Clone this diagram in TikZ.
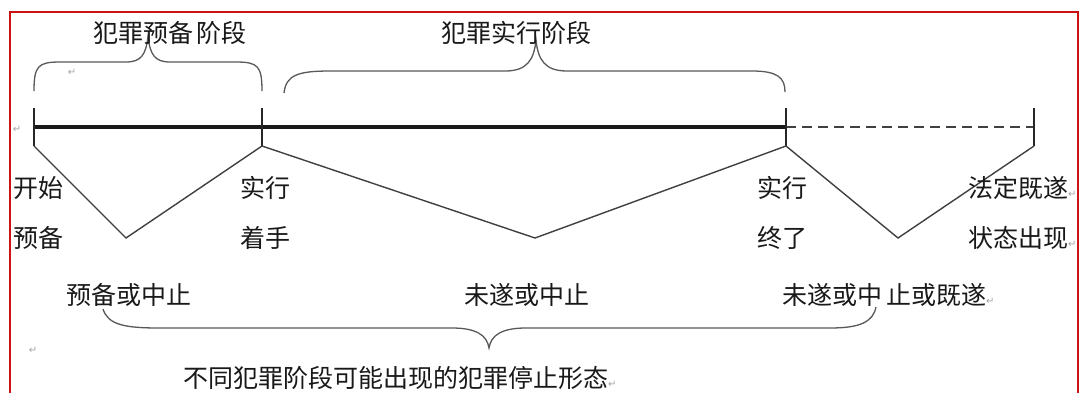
\documentclass[tikz,border=0pt]{standalone}
\usepackage{fontspec}
\newfontfamily\cjk{Noto Sans CJK SC}
\newfontfamily\symf{DejaVu Sans}
\newcommand{\parmark}{{\symf\fontsize{10}{10}\selectfont\color{black!35}↵}}
\begin{document}
\begin{tikzpicture}[x=1pt,y=-1pt,
  lbl/.style={font=\cjk\fontsize{25}{25}\selectfont, text=black!90, inner sep=0pt, anchor=west},
  ttl/.style={font=\cjk\fontsize{25}{25}\selectfont, text=black!90, inner sep=0pt},
  retmark/.style={font=\symf\fontsize{10}{10}\selectfont, text=black!35, inner sep=0pt},
  bracepath/.style={draw=black!65, line width=1.3pt},
  mainline/.style={draw=black!90, line width=3.5pt},
  dashline/.style={draw=black!75, line width=2.5pt, dash pattern=on 10pt off 6pt},
  tickline/.style={draw=black!85, line width=2pt},
  zig/.style={draw=black!75, line width=1.4pt, line join=miter}]
\useasboundingbox (0,0) rectangle (1081,392);
\fill[white] (0,0) rectangle (1081,392);
\draw[draw={rgb,255:red,200;green,20;blue,20}, line width=2pt] (10,400) -- (10,12) -- (1078,12) -- (1078,400);

% timeline points
\coordinate (a) at (34,127);
\coordinate (b) at (262,127);
\coordinate (c) at (786,127);
\coordinate (d) at (1034,127);
\coordinate (at) at (34,108);  \coordinate (ab) at (34,146);
\coordinate (bt) at (262,108); \coordinate (bb) at (262,146);
\coordinate (ct) at (786,108); \coordinate (cb) at (786,146);
\coordinate (dt) at (1034,108);\coordinate (db) at (1034,146);
\coordinate (v1) at (126,238);
\coordinate (v2) at (535,238);
\coordinate (v3) at (898,238);

\draw[mainline] (a) -- (c);
\draw[dashline] (c) -- (d);
\draw[tickline] (at) -- (ab);
\draw[tickline] (bt) -- (bb);
\draw[tickline] (ct) -- (cb);
\draw[tickline] (dt) -- (db);
\draw[zig] (ab) -- (v1) -- (bb) -- (v2) -- (cb) -- (v3) -- (db);

% top braces
\draw[bracepath] (34,91) .. controls (34,66) and (38,62) .. (60,62) -- (126,62)
  .. controls (141,62) and (146,55) .. (148,36) .. controls (150,55) and (155,62) .. (170,62)
  -- (236,62) .. controls (258,62) and (262,66) .. (262,91);
\draw[bracepath] (284,93) .. controls (286,75) and (298,71) .. (330,71) -- (505,71)
  .. controls (527,71) and (534,60) .. (536,40) .. controls (538,60) and (545,71) .. (567,71)
  -- (752,71) .. controls (778,71) and (785,78) .. (785,92);
% bottom brace
\draw[bracepath] (103,309) .. controls (108,325) and (125,328) .. (160,328) -- (452,328)
  .. controls (476,328) and (487,335) .. (489,348) .. controls (491,335) and (502,328) .. (526,328)
  -- (830,328) .. controls (860,328) and (873,322) .. (876,307);

% titles
\node[ttl] (t1) at (170,33) {犯罪预备\hspace{3pt}阶段};
\node[ttl] (t2) at (516,33) {犯罪实行阶段};

% labels
\node[lbl] (l1) at (13,188) {开始};
\node[lbl] (l2) at (13,238) {预备};
\node[lbl] (l3) at (240,188) {实行};
\node[lbl] (l4) at (240,238) {着手};
\node[lbl] (l5) at (757,188) {实行};
\node[lbl] (l6) at (757,238) {终了};
\node[lbl] (l7) at (968,188) {法定既遂\parmark};
\node[lbl] (l8) at (968,238) {状态出现\parmark};
\node[lbl] (s1) at (66,295) {预备或中止};
\node[lbl] (s2) at (464,295) {未遂或中止};
\node[lbl] (s3) at (782,295) {未遂或中\hspace{4pt}止或既遂\parmark};
\node[lbl] (bt1) at (183,378) {不同犯罪阶段可能出现的犯罪停止形态\parmark};

% paragraph marks
\node[retmark] (r1) at (17,129) {↵};
\node[retmark] (r2) at (72,72) {↵};
\node[retmark] (r3) at (33,350) {↵};
\end{tikzpicture}
\end{document}
